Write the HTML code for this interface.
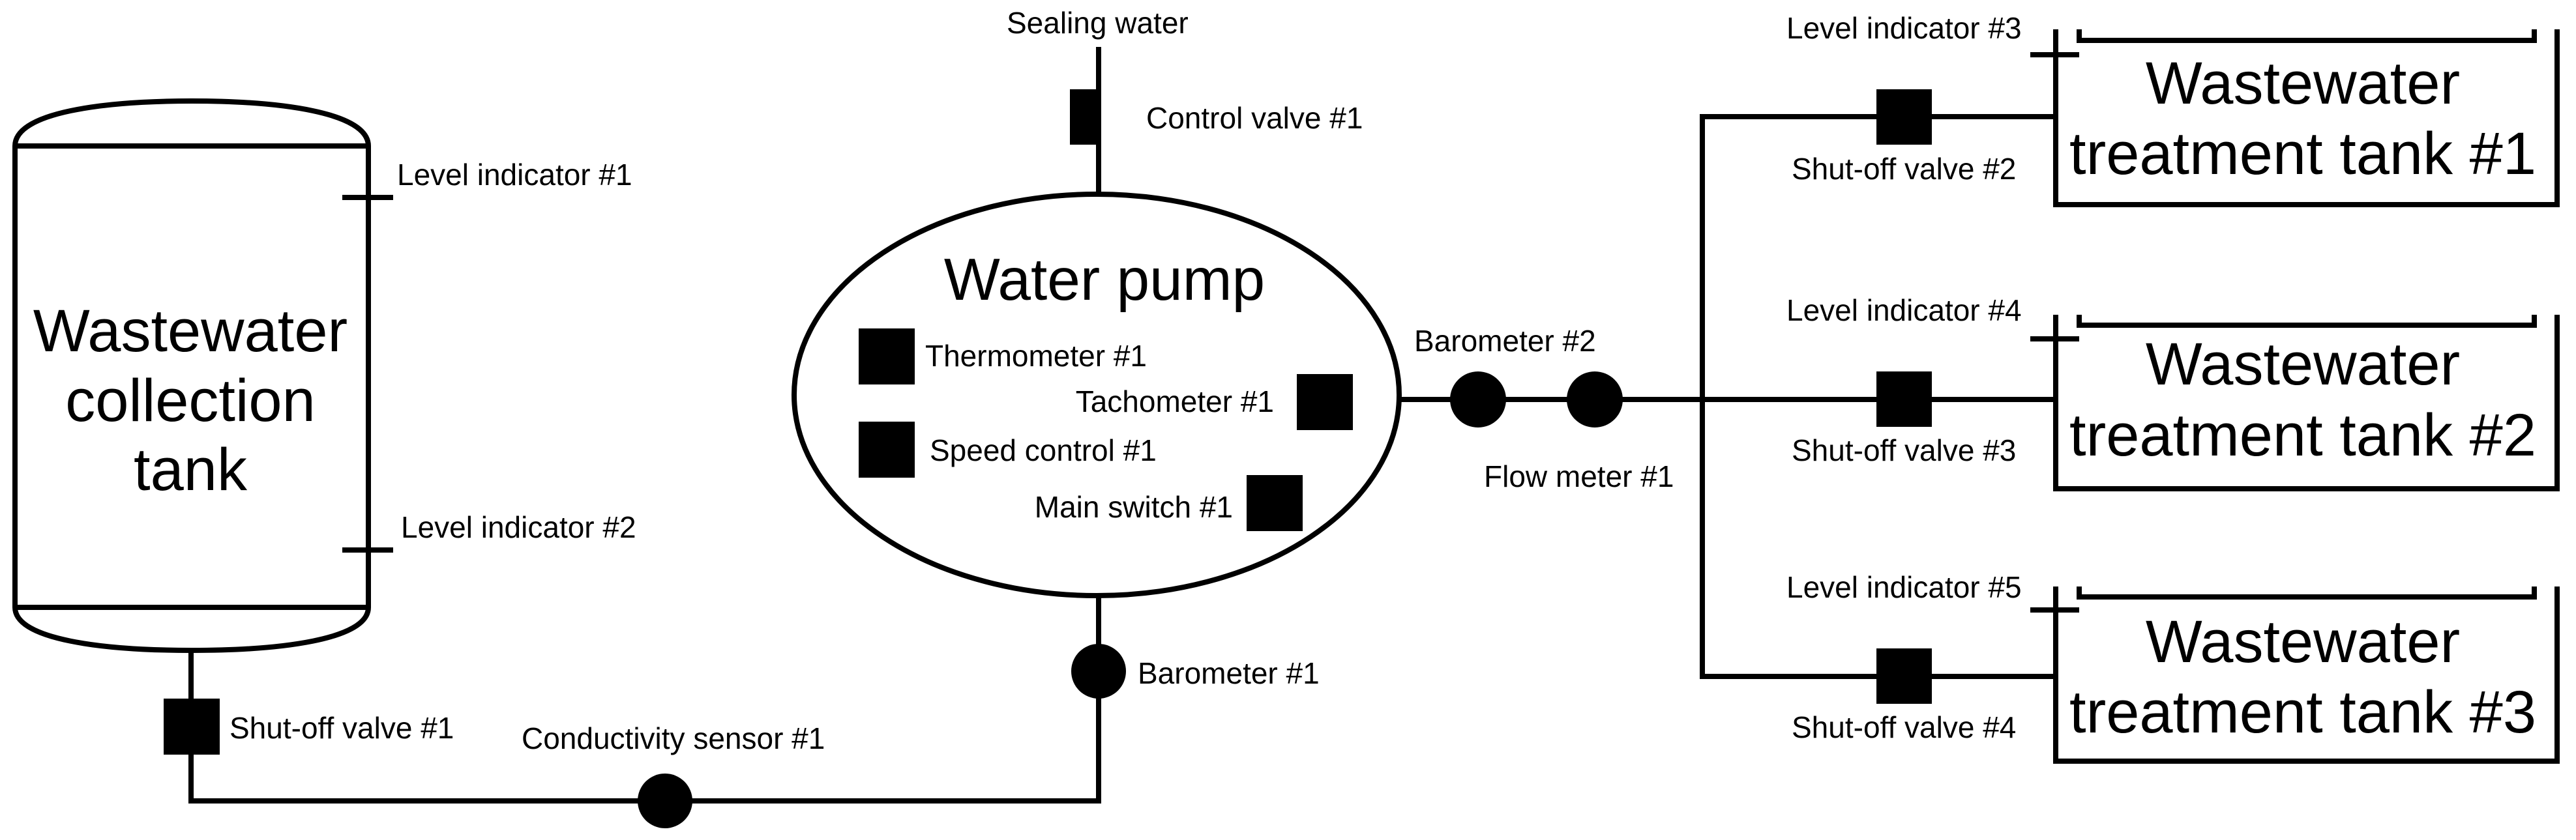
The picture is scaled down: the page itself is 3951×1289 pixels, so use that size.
<!DOCTYPE html>
<html><head><meta charset="utf-8"><style>html,body{margin:0;padding:0;background:#fff}svg{display:block}text{font-family:"Liberation Sans",Arial,sans-serif;fill:#000}</style></head><body>
<svg width="3951" height="1289" viewBox="0 0 3951 1289" xmlns="http://www.w3.org/2000/svg">
<g fill="none" stroke="#000" stroke-width="8">
<path d="M23,224 C23,172 160,155 294,155 C428,155 565,172 565,224"/>
<line x1="23" y1="224" x2="565" y2="224"/>
<line x1="23" y1="224" x2="23" y2="932"/>
<line x1="565" y1="224" x2="565" y2="932"/>
<line x1="23" y1="932" x2="565" y2="932"/>
<path d="M23,932 C23,982 160,998 294,998 C428,998 565,982 565,932"/>
<line x1="525" y1="303" x2="603" y2="303"/>
<line x1="525" y1="844" x2="603" y2="844"/>
<polyline points="293,998 293,1229 1685,1229 1685,914"/>
<line x1="1685" y1="72" x2="1685" y2="298"/>
<ellipse cx="1682" cy="606" rx="464" ry="308"/>
<line x1="2146" y1="613" x2="3153" y2="613"/>
<polyline points="3153,179 2611,179 2611,1038 3153,1038"/>
<polyline points="3153,45 3153,314 3922,314 3922,45"/>
<polyline points="3189,45 3189,62 3887,62 3887,45"/>
<line x1="3114" y1="84" x2="3189" y2="84"/>
<polyline points="3153,483 3153,750 3922,750 3922,483"/>
<polyline points="3189,483 3189,499 3887,499 3887,483"/>
<line x1="3114" y1="520" x2="3189" y2="520"/>
<polyline points="3153,900 3153,1168 3922,1168 3922,900"/>
<polyline points="3189,900 3189,916 3887,916 3887,900"/>
<line x1="3114" y1="936" x2="3189" y2="936"/>
</g>
<g fill="#000">
<rect x="251" y="1072" width="86" height="86"/>
<circle cx="1020" cy="1229" r="42"/>
<rect x="1641" y="137" width="44" height="85"/>
<circle cx="1685" cy="1030" r="42"/>
<rect x="1317" y="504" width="86" height="86"/>
<rect x="1317" y="647" width="86" height="86"/>
<rect x="1989" y="574" width="86" height="86"/>
<rect x="1912" y="729" width="86" height="86"/>
<circle cx="2267" cy="613" r="43"/>
<circle cx="2446" cy="613" r="43"/>
<rect x="2878" y="137" width="85" height="85"/>
<rect x="2878" y="570" width="85" height="85"/>
<rect x="2878" y="995" width="85" height="85"/>
</g>
<g font-size="92" text-anchor="middle">
<text x="292" y="539">Wastewater</text>
<text x="292" y="646">collection</text>
<text x="292" y="752">tank</text>
<text x="1694" y="460" font-size="91">Water pump</text>
<text x="3532" y="159">Wastewater</text>
<text x="3532" y="267">treatment tank #1</text>
<text x="3532" y="590">Wastewater</text>
<text x="3532" y="699">treatment tank #2</text>
<text x="3532" y="1016">Wastewater</text>
<text x="3532" y="1124">treatment tank #3</text>
</g>
<g font-size="46">
<text x="609" y="284">Level indicator #1</text>
<text x="615" y="825">Level indicator #2</text>
<text x="352" y="1133">Shut-off valve #1</text>
<text x="800" y="1149">Conductivity sensor #1</text>
<text x="1544" y="51">Sealing water</text>
<text x="1758" y="197">Control valve #1</text>
<text x="1419" y="562">Thermometer #1</text>
<text x="1426" y="707">Speed control #1</text>
<text x="1954" y="632" text-anchor="end">Tachometer #1</text>
<text x="1891" y="794" text-anchor="end">Main switch #1</text>
<text x="2169" y="539">Barometer #2</text>
<text x="2276" y="747">Flow meter #1</text>
<text x="1745" y="1049">Barometer #1</text>
<text x="2740" y="59">Level indicator #3</text>
<text x="2748" y="275">Shut-off valve #2</text>
<text x="2740" y="492">Level indicator #4</text>
<text x="2748" y="707">Shut-off valve #3</text>
<text x="2740" y="917">Level indicator #5</text>
<text x="2748" y="1132">Shut-off valve #4</text>
</g>
</svg>
</body></html>
